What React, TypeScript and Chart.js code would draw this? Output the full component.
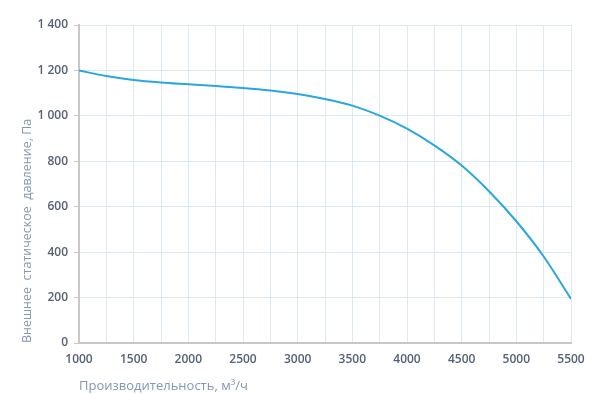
import React, { useEffect, useRef } from "react";
import { Chart, registerables } from "chart.js";

Chart.register(...registerables);

const airflow = [1000, 1250, 1500, 1750, 2000, 2250, 2500, 2750, 3000, 3250, 3500, 3750, 4000, 4250, 4500, 4750, 5000, 5250, 5500];
const pressure = [1200, 1175, 1158, 1147, 1139, 1131, 1123, 1112, 1096, 1074, 1045, 1001, 944, 870, 781, 668, 536, 381, 194];
const yTicks = [0, 200, 400, 600, 800, 1000, 1200, 1400];
const xLabelTicks = [1000, 1500, 2000, 2500, 3000, 3500, 4000, 4500, 5000, 5500];

const yTitle = "Внешнее  статическое  давление, Па";
const xTitle = "Производительность, м³/ч";

const fmt = (v: number) => {
  const s = String(Math.round(v));
  return s.replace(/\B(?=(\d{3})+(?!\d))/g, " ");
};

export default function App() {
  const ref = useRef<HTMLCanvasElement | null>(null);
  useEffect(() => {
    document.body.style.margin = "0";
    const ctx = ref.current!;
    const chart = new Chart(ctx, {
      type: "line",
      data: {
        datasets: [
          {
            data: airflow.map((x, i) => ({ x, y: pressure[i] })),
            borderColor: "#2aa6e0",
            borderWidth: 2,
            pointRadius: 0,
            cubicInterpolationMode: "monotone",
            fill: false,
          },
        ],
      },
      options: {
        animation: false,
        responsive: false,
        maintainAspectRatio: false,
        layout: { padding: { left: 0, top: 25, right: 34, bottom: 0 } },
        plugins: { legend: { display: false }, tooltip: { enabled: false } },
        scales: {
          x: {
            type: "linear",
            min: 1000,
            max: 5500,
            afterBuildTicks: (s: any) => {
              const t = [];
              for (let v = 1000; v <= 5500; v += 250) t.push({ value: v });
              s.ticks = t;
            },
            ticks: {
              autoSkip: false,
              maxRotation: 0,
              padding: 9,
              color: "#566175",
              font: { family: "Open Sans", size: 12, weight: "600" },
              callback: (v: any) => (xLabelTicks.includes(Number(v)) ? String(v) : ""),
            },
            grid: { color: "#dde8f5", lineWidth: 1, drawTicks: false },
            border: { color: "#c8c8c8", width: 2 },
            title: {
              display: true,
              text: xTitle,
              align: "start",
              color: "#8498b2",
              font: { family: "Open Sans", size: 13, weight: "normal" },
              padding: { top: 1, bottom: 0 },
            },
            afterFit: (s: any) => {
              s.height = 51;
            },
          },
          y: {
            type: "linear",
            min: 0,
            max: 1400,
            afterBuildTicks: (s: any) => {
              s.ticks = yTicks.map((v) => ({ value: v }));
            },
            ticks: {
              padding: 6,
              color: "#566175",
              font: { family: "Open Sans", size: 12, weight: "600" },
              callback: (v: any) => fmt(Number(v)),
            },
            grid: { color: "#dde8f5", lineWidth: 1, drawTicks: true, tickLength: 5, tickColor: "#c8c8c8" },
            border: { color: "#c8c8c8", width: 2 },
            title: {
              display: true,
              text: yTitle,
              align: "start",
              color: "#8498b2",
              font: { family: "Open Sans", size: 12.5, weight: "normal" },
              padding: { top: 20, bottom: 0 },
            },
            afterFit: (s: any) => {
              s.width = 79;
            },
          },
        },
      },
    } as any);
    return () => chart.destroy();
  }, []);
  return (
    <div style={{ width: 605, height: 394 }}>
      <canvas ref={ref} width={605} height={394} style={{ display: "block", width: 605, height: 394 }} />
    </div>
  );
}
